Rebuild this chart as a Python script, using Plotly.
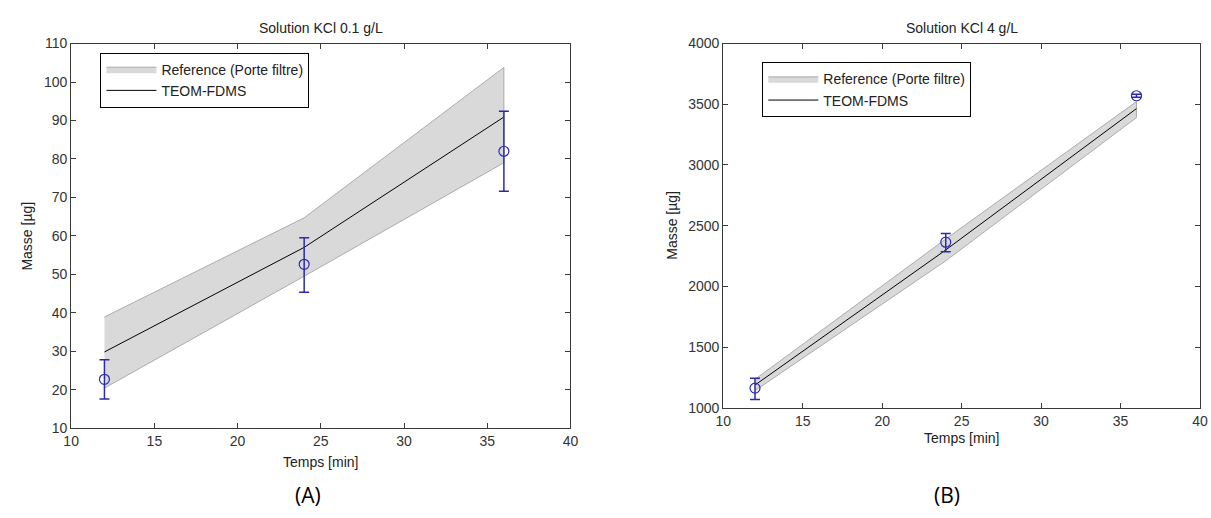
import plotly.graph_objects as go

# ---------------- data ----------------
time_min = [12, 24, 36]

# Panel A : Solution KCl 0.1 g/L
a_ref_upper = [38.9, 64.7, 103.8]
a_ref_lower = [20.4, 49.5, 79.0]
a_teom = [29.8, 57.0, 90.9]
a_meas = [22.7, 52.6, 82.0]
a_err_plus = [5.1, 6.9, 10.4]
a_err_minus = [5.1, 7.3, 10.4]

# Panel B : Solution KCl 4 g/L
b_ref_upper = [1234, 2390, 3522]
b_ref_lower = [1141, 2210, 3390]
b_teom = [1187, 2300, 3464]
b_meas = [1162, 2364, 3570]
b_err_plus = [81, 72, 12]
b_err_minus = [93, 79, 12]

titles = ["Solution KCl 0.1 g/L", "Solution KCl 4 g/L"]
panel_labels = ["(A)", "(B)"]
x_title = "Temps [min]"
y_title = "Masse [µg]"
ref_name = "Reference (Porte filtre)"
teom_name = "TEOM-FDMS"

# ---------------- style ----------------
W, H = 1211, 518
FONT = "Liberation Sans, Arial, sans-serif"
FS = 14
BAND_FILL = "#d9d9d9"
BAND_EDGE = "#9a9a9a"
BLUE = "#2a2ab0"
AX = "#3a3a3a"

fig = go.Figure()


def add_panel(xa, ya, legend, upper, lower, teom, meas, ep, em):
    xs = time_min + time_min[::-1]
    ys = upper + lower[::-1]
    fig.add_trace(go.Scatter(
        x=xs, y=ys, xaxis=xa, yaxis=ya, mode="lines", fill="toself",
        fillcolor=BAND_FILL, line=dict(color=BAND_EDGE, width=0.8),
        name=ref_name, legend=legend, hoverinfo="skip"))
    fig.add_trace(go.Scatter(
        x=time_min, y=teom, xaxis=xa, yaxis=ya, mode="lines",
        line=dict(color="black", width=1), name=teom_name, legend=legend))
    fig.add_trace(go.Scatter(
        x=time_min, y=meas, xaxis=xa, yaxis=ya, mode="markers",
        marker=dict(symbol="circle-open", size=10, color=BLUE,
                    line=dict(width=1.2, color=BLUE)),
        error_y=dict(type="data", array=ep, arrayminus=em, symmetric=False,
                     color=BLUE, thickness=1.5, width=5),
        showlegend=False))


add_panel("x", "y", "legend", a_ref_upper, a_ref_lower, a_teom, a_meas,
          a_err_plus, a_err_minus)
add_panel("x2", "y2", "legend2", b_ref_upper, b_ref_lower, b_teom, b_meas,
          b_err_plus, b_err_minus)

axis_common = dict(showline=True, linecolor=AX, linewidth=1, mirror="ticks",
                   ticks="inside", ticklen=5, tickcolor=AX, showgrid=False,
                   zeroline=False, tickfont=dict(family=FONT, size=FS, color="#333"))

A_dom_x = [64 / W, 570 / W]
A_dom_y = [1 - 433.5 / H, 1 - 36.7 / H]
B_dom_x = [724.8 / W, 1208 / W]
B_dom_y = [1 - 412.5 / H, 1 - 36.7 / H]

fig.update_layout(
    width=W, height=H, margin=dict(l=0, r=0, t=0, b=0),
    paper_bgcolor="white", plot_bgcolor="white",
    font=dict(family=FONT, size=FS, color="#222"),
    xaxis=dict(domain=A_dom_x, range=[10, 40], dtick=5, anchor="y", **axis_common),
    yaxis=dict(domain=A_dom_y, range=[10, 110], dtick=10, anchor="x", **axis_common),
    xaxis2=dict(domain=B_dom_x, range=[10, 40], dtick=5, anchor="y2", **axis_common),
    yaxis2=dict(domain=B_dom_y, range=[1000, 4000], dtick=500, anchor="x2", **axis_common),
    legend=dict(x=93.7 / W, y=1 - 46 / H, xanchor="left", yanchor="top",
                bgcolor="white", bordercolor="black", borderwidth=1,
                font=dict(family=FONT, size=FS, color="#222"),
                itemwidth=50, tracegroupgap=0),
    legend2=dict(x=764.4 / W, y=1 - 56 / H, xanchor="left", yanchor="top",
                 bgcolor="white", bordercolor="black", borderwidth=1,
                 font=dict(family=FONT, size=FS, color="#222"),
                 itemwidth=50, tracegroupgap=0),
    showlegend=True,
)


def label(text, xpx, ypx, size=FS, angle=0, family=FONT, color="#222"):
    return dict(text=text, x=xpx / W, y=1 - ypx / H, xref="paper", yref="paper",
                xanchor="center", yanchor="middle", showarrow=False,
                textangle=angle, font=dict(family=family, size=size, color=color))


ann = [
    label(titles[0], (64 + 570) / 2, 20.7),
    label(titles[1], (724.8 + 1208) / 2, 20.7),
    label(x_title, (64 + 570) / 2, 468),
    label(x_title, (724.8 + 1208) / 2, 444),
    label(y_title, 19, (36.7 + 433.5) / 2, angle=-90),
    label(y_title, 673, (36.7 + 412.5) / 2, angle=-90),
    label(panel_labels[0], 304, 503, size=21, family="Open Sans, Lato, sans-serif", color="black"),
    label(panel_labels[1], 952, 503, size=21, family="Open Sans, Lato, sans-serif", color="black"),
]
fig.update_layout(annotations=ann)

fig.write_html("out.html", config={"displayModeBar": False},
               post_script="document.body.style.margin='0';")
